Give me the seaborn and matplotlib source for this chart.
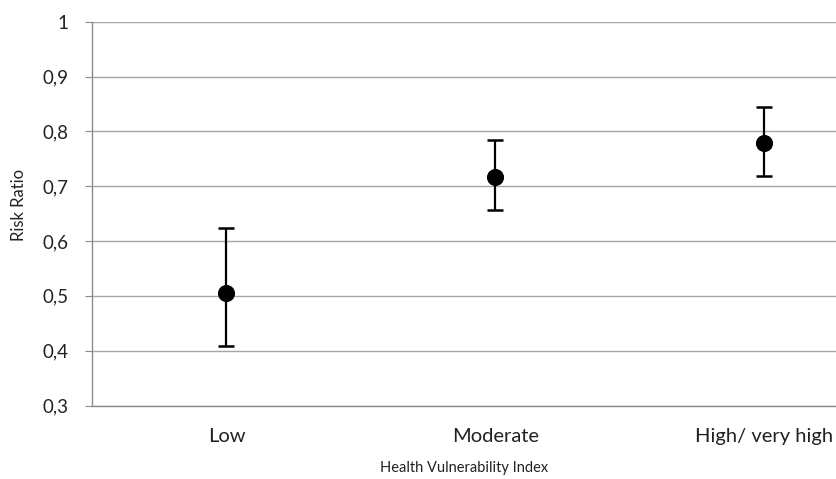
import matplotlib
matplotlib.use("Agg")
import matplotlib.pyplot as plt
import seaborn as sns
import pandas as pd
import numpy as np

# Values
categories = ["Low", "Moderate", "High/ very high"]
risk_ratio = [0.506, 0.716, 0.779]
ci_lower = [0.409, 0.657, 0.718]
ci_upper = [0.624, 0.785, 0.845]
y_ticks = [0.3, 0.4, 0.5, 0.6, 0.7, 0.8, 0.9, 1.0]
y_tick_labels = ["0,3", "0,4", "0,5", "0,6", "0,7", "0,8", "0,9", "1"]


def main():
    sns.set_style("white")
    plt.rcParams["font.family"] = ["Lato", "DejaVu Sans"]

    df = pd.DataFrame({"category": categories, "rr": risk_ratio,
                       "lo": ci_lower, "hi": ci_upper})

    fig = plt.figure(figsize=(8.37, 4.79), dpi=100)
    ax = fig.add_axes([0.110, 0.1534, 0.890, 0.8013])

    xpos = np.arange(len(categories))
    yerr = [df["rr"] - df["lo"], df["hi"] - df["rr"]]
    ax.errorbar(xpos, df["rr"], yerr=yerr, fmt="none", ecolor="black",
                elinewidth=1.6, capsize=6, capthick=1.8, zorder=3)
    sns.scatterplot(data=df, x="category", y="rr", ax=ax, color="black",
                    s=130, edgecolor="black", zorder=4, legend=False)

    ax.set_ylim(0.3, 1.0)
    ax.set_xlim(-0.5, 2.271)
    ax.set_yticks(y_ticks)
    ax.set_yticklabels(y_tick_labels, fontsize=13.5, color="#222222")
    ax.set_xticks(xpos)
    ax.set_xticklabels(categories, fontsize=14.5, color="#222222")
    ax.grid(axis="y", color="#a6a6a6", linewidth=1)
    ax.set_axisbelow(True)

    for side in ["top", "right"]:
        ax.spines[side].set_visible(False)
    for side in ["left", "bottom"]:
        ax.spines[side].set_color("#8c8c8c")
        ax.spines[side].set_linewidth(1)

    ax.tick_params(axis="y", which="both", left=True, length=5,
                   color="#8c8c8c", pad=12)
    ax.tick_params(axis="x", bottom=False, pad=13)

    ax.set_xlabel("")
    ax.set_ylabel("")
    fig.text(464 / 837, 1 - 468 / 479, "Health Vulnerability Index",
             ha="center", va="center", fontsize=10.5, color="#222222")
    fig.text(19 / 837, 1 - 205 / 479, "Risk Ratio", ha="center",
             va="center", rotation=90, fontsize=12, color="#222222")

    fig.savefig("out.png", dpi=100)
    plt.close(fig)


if __name__ == "__main__":
    main()
